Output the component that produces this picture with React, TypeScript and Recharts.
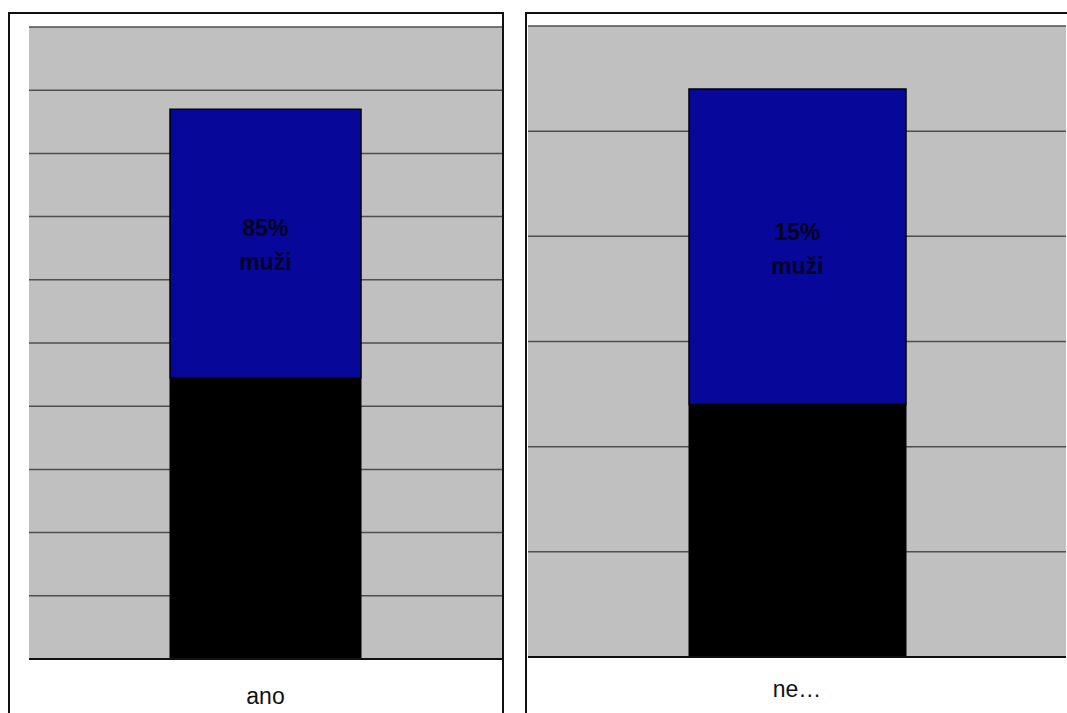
import { BarChart, Bar, XAxis, YAxis, CartesianGrid, LabelList } from "recharts";

// answers and counts per group
const answers = ["ano", "ne…"];
const men = [85, 15];
const women = [89, 12];

// each panel has its own value scale
const yesTicks = [0, 20, 40, 60, 80, 100, 120, 140, 160, 180, 200];
const noTicks = [0, 5, 10, 15, 20, 25, 30];

const BLUE = "#07079a";
const PLOT_BG = "#c0c0c1";
const GRID = "#4e4e4e";

function SegmentLabel(props: any) {
  const { x, y, width, height, value } = props;
  const cx = x + width / 2;
  const cy = y + height / 2;
  return (
    <text
      x={cx}
      textAnchor="middle"
      fontFamily="Liberation Sans, Arial, sans-serif"
      fontWeight="bold"
      fontSize={23}
      fill="#050520"
    >
      <tspan x={cx} y={cy - 7}>{`${value}%`}</tspan>
      <tspan x={cx} y={cy + 27}>muži</tspan>
    </text>
  );
}

function AnswerTick({ x, y, payload, drop }: any) {
  return (
    <text
      x={x}
      y={y + drop}
      textAnchor="middle"
      fontFamily="Liberation Sans, Arial, sans-serif"
      fontSize={23}
      fill="#111"
    >
      {payload.value}
    </text>
  );
}

function Panel({
  index,
  ticks,
  width,
  margin,
  axisHeight,
  barSize,
  drop,
}: {
  index: number;
  ticks: number[];
  width: number;
  margin: { top: number; right: number; bottom: number; left: number };
  axisHeight: number;
  barSize: number;
  drop: number;
}) {
  const data = [{ answer: answers[index], muzi: men[index], zeny: women[index] }];
  return (
    <BarChart width={width} height={713} data={data} margin={margin} barCategoryGap={0}>
      <CartesianGrid
        vertical={false}
        stroke={GRID}
        strokeWidth={1.5}
        strokeOpacity={1}
        fill={PLOT_BG}
        fillOpacity={1}
      />
      <XAxis
        dataKey="answer"
        axisLine={{ stroke: "#111", strokeWidth: 2 }}
        tickLine={false}
        height={axisHeight}
        tick={<AnswerTick drop={drop} />}
      />
      <YAxis
        width={0}
        type="number"
        domain={[ticks[0], ticks[ticks.length - 1]]}
        ticks={ticks}
        interval={0}
        tick={() => <g />}
        tickLine={false}
        axisLine={{ stroke: GRID, strokeWidth: 1.5 }}
      />
      <Bar dataKey="zeny" stackId="a" fill="#000" stroke="#000" barSize={barSize} isAnimationActive={false} />
      <Bar dataKey="muzi" stackId="a" fill={BLUE} stroke="#000" strokeWidth={1.5} barSize={barSize} isAnimationActive={false}>
        <LabelList dataKey="muzi" content={<SegmentLabel />} />
      </Bar>
    </BarChart>
  );
}

export default function App() {
  return (
    <div
      style={{
        position: "absolute",
        left: 0,
        top: 0,
        width: 1067,
        height: 713,
        overflow: "hidden",
        background: "#fff",
      }}
    >
      <div style={{ position: "absolute", left: 0, top: 0 }}>
        <Panel
          index={0}
          ticks={yesTicks}
          width={520}
          margin={{ top: 27, right: 18, bottom: 0, left: 29 }}
          axisHeight={54}
          barSize={191}
          drop={37}
        />
      </div>
      <div style={{ position: "absolute", left: 520, top: 0 }}>
        <Panel
          index={1}
          ticks={noTicks}
          width={547}
          margin={{ top: 26, right: 1, bottom: 0, left: 8 }}
          axisHeight={56}
          barSize={217}
          drop={32}
        />
      </div>
      {/* panel frames */}
      <div
        style={{
          position: "absolute",
          left: 8,
          top: 12,
          width: 496,
          height: 740,
          border: "2px solid #111",
          boxSizing: "border-box",
          pointerEvents: "none",
        }}
      />
      <div
        style={{
          position: "absolute",
          left: 525,
          top: 12,
          width: 600,
          height: 740,
          border: "2px solid #111",
          boxSizing: "border-box",
          pointerEvents: "none",
        }}
      />
    </div>
  );
}
